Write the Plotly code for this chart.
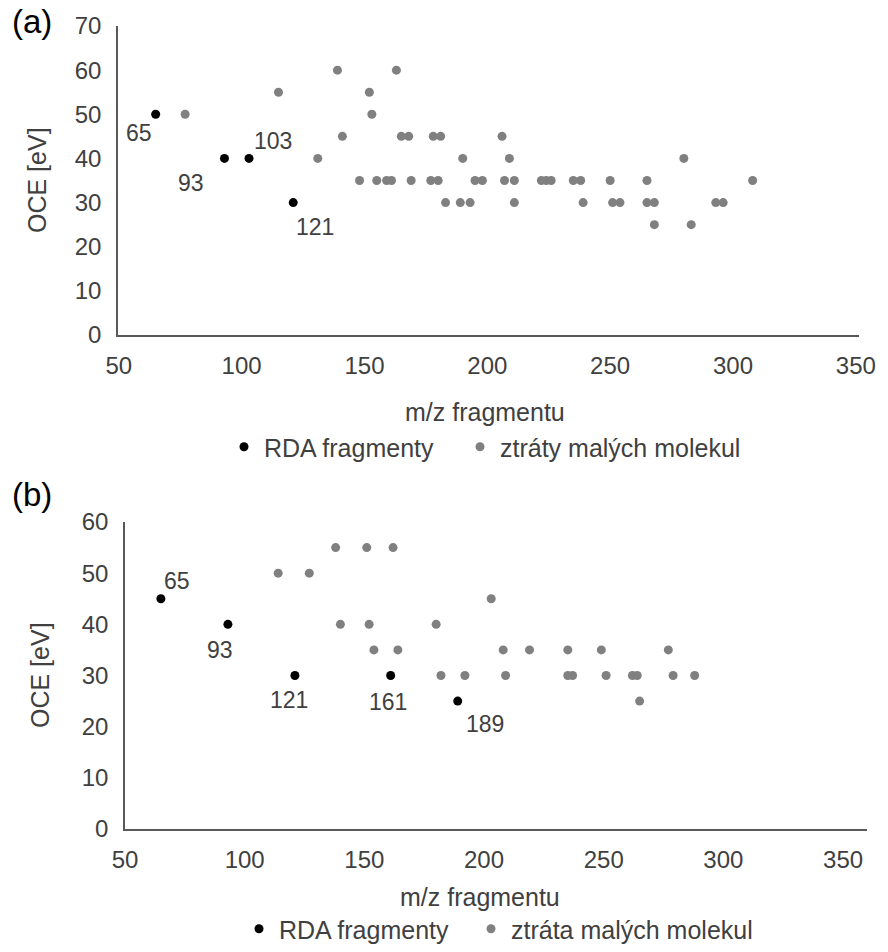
import plotly.graph_objects as go

W, H = 888, 952

# ---------------- data ----------------
# panel (a)
rda_a_x = [65, 93, 103, 121]
rda_a_y = [50, 40, 40, 30]
rda_a_lbl = ["65", "93", "103", "121"]

loss_a_x = [139, 163, 115, 152, 77, 153,
            141, 165, 168, 178, 181, 206,
            131, 190, 209, 280,
            148, 155, 159, 161, 169, 177, 180, 195, 198, 207, 211, 222, 224, 226, 235, 238, 250, 265, 308,
            183, 189, 193, 211, 239, 251, 254, 265, 268, 293, 296,
            268, 283]
loss_a_y = [60, 60, 55, 55, 50, 50,
            45, 45, 45, 45, 45, 45,
            40, 40, 40, 40,
            35, 35, 35, 35, 35, 35, 35, 35, 35, 35, 35, 35, 35, 35, 35, 35, 35, 35, 35,
            30, 30, 30, 30, 30, 30, 30, 30, 30, 30, 30,
            25, 25]

# panel (b)
rda_b_x = [65, 93, 121, 161, 189]
rda_b_y = [45, 40, 30, 30, 25]
rda_b_lbl = ["65", "93", "121", "161", "189"]

loss_b_x = [138, 151, 162,
            114, 127,
            203,
            140, 152, 180,
            154, 164, 208, 219, 235, 249, 277,
            182, 192, 209, 235, 237, 251, 262, 264, 279, 288,
            265]
loss_b_y = [55, 55, 55,
            50, 50,
            45,
            40, 40, 40,
            35, 35, 35, 35, 35, 35, 35,
            30, 30, 30, 30, 30, 30, 30, 30, 30, 30,
            25]

x_ticks = [50, 100, 150, 200, 250, 300, 350]
ya_ticks = [0, 10, 20, 30, 40, 50, 60, 70]
yb_ticks = [0, 10, 20, 30, 40, 50, 60]

# ---------------- style ----------------
FONT = "Liberation Sans, Arial, sans-serif"
TXT = "#404040"
AX = "#595959"
BLACK = "#000000"
GRAY = "#808080"


def px_x(p):
    return p / W


def px_y(p):
    return 1 - p / H


fig = go.Figure()

fig.add_trace(go.Scatter(x=rda_a_x, y=rda_a_y, mode="markers", name="RDA fragmenty",
                         marker=dict(color=BLACK, size=9), xaxis="x", yaxis="y", legend="legend"))
fig.add_trace(go.Scatter(x=loss_a_x, y=loss_a_y, mode="markers", name="ztráty malých molekul",
                         marker=dict(color=GRAY, size=9), xaxis="x", yaxis="y", legend="legend2"))
fig.add_trace(go.Scatter(x=rda_b_x, y=rda_b_y, mode="markers", name="RDA fragmenty",
                         marker=dict(color=BLACK, size=9), xaxis="x2", yaxis="y2", legend="legend3"))
fig.add_trace(go.Scatter(x=loss_b_x, y=loss_b_y, mode="markers", name="ztráta malých molekul",
                         marker=dict(color=GRAY, size=9), xaxis="x2", yaxis="y2", legend="legend4"))

common_x = dict(showgrid=False, zeroline=False, showline=True, linecolor=AX, linewidth=1.5,
                ticks="", tickmode="array", tickvals=x_ticks, automargin=False,
                tickfont=dict(family=FONT, size=24, color=TXT), ticklabelstandoff=8)
common_y = dict(showgrid=False, zeroline=False, showline=True, linecolor=AX, linewidth=1.5,
                ticks="", tickmode="array", automargin=False,
                tickfont=dict(family=FONT, size=24, color=TXT), ticklabelstandoff=10)

leg_font = dict(family=FONT, size=25, color=TXT)


def leg(dot_px, center_py=None, bottom=False):
    d = dict(orientation="h", x=px_x(dot_px - 20), xanchor="left",
             font=leg_font, itemwidth=30, bgcolor="rgba(0,0,0,0)")
    if bottom:
        d.update(y=0, yanchor="bottom")
    else:
        d.update(y=px_y(center_py), yanchor="middle")
    return d


fig.update_layout(
    width=W, height=H,
    margin=dict(l=0, r=0, t=0, b=0, autoexpand=False),
    paper_bgcolor="white", plot_bgcolor="white",
    font=dict(family=FONT, color=TXT),
    xaxis=dict(domain=[px_x(118), px_x(859)], range=[49.67, 351.3], anchor="y", **common_x),
    yaxis=dict(domain=[px_y(335), px_y(26)], range=[0, 70], anchor="x", tickvals=ya_ticks, **common_y),
    xaxis2=dict(domain=[px_x(125), px_x(867)], range=[50, 360], anchor="y2", **common_x),
    yaxis2=dict(domain=[px_y(829), px_y(522)], range=[0, 60], anchor="x2", tickvals=yb_ticks, **common_y),
    legend=leg(244, 447),
    legend2=leg(480, 447),
    legend3=leg(259, bottom=True),
    legend4=leg(491, bottom=True),
    showlegend=True,
)

ann = []
# point labels (a)
shifts_a = [(-17, -19), (-33, -25), (24, 17), (22, -24)]
for x, y, t, (dx, dy) in zip(rda_a_x, rda_a_y, rda_a_lbl, shifts_a):
    ann.append(dict(x=x, y=y, xref="x", yref="y", text=t, showarrow=False,
                    xshift=dx, yshift=dy, font=dict(family=FONT, size=23, color=TXT)))
# point labels (b)
shifts_b = [(16, 18), (-8, -26), (-6, -24), (-3, -26), (27, -23)]
for x, y, t, (dx, dy) in zip(rda_b_x, rda_b_y, rda_b_lbl, shifts_b):
    ann.append(dict(x=x, y=y, xref="x2", yref="y2", text=t, showarrow=False,
                    xshift=dx, yshift=dy, font=dict(family=FONT, size=23, color=TXT)))

# axis titles and panel labels
title_font = dict(family=FONT, size=25, color=TXT)
ann += [
    dict(x=px_x(485), y=px_y(412), xref="paper", yref="paper", text="m/z fragmentu", showarrow=False,
         xanchor="center", yanchor="middle", font=title_font),
    dict(x=px_x(480), y=px_y(897), xref="paper", yref="paper", text="m/z fragmentu", showarrow=False,
         xanchor="center", yanchor="middle", font=title_font),
    dict(x=px_x(37), y=px_y(180), xref="paper", yref="paper", text="OCE [eV]", showarrow=False,
         textangle=-90, xanchor="center", yanchor="middle", font=title_font),
    dict(x=px_x(40), y=px_y(675), xref="paper", yref="paper", text="OCE [eV]", showarrow=False,
         textangle=-90, xanchor="center", yanchor="middle", font=title_font),
    dict(x=px_x(32), y=px_y(21), xref="paper", yref="paper", text="(a)", showarrow=False,
         xanchor="center", yanchor="middle", font=dict(family=FONT, size=33, color="#000000")),
    dict(x=px_x(32), y=px_y(494), xref="paper", yref="paper", text="(b)", showarrow=False,
         xanchor="center", yanchor="middle", font=dict(family=FONT, size=33, color="#000000")),
]
fig.update_layout(annotations=ann)

fig.write_html("out.html")
